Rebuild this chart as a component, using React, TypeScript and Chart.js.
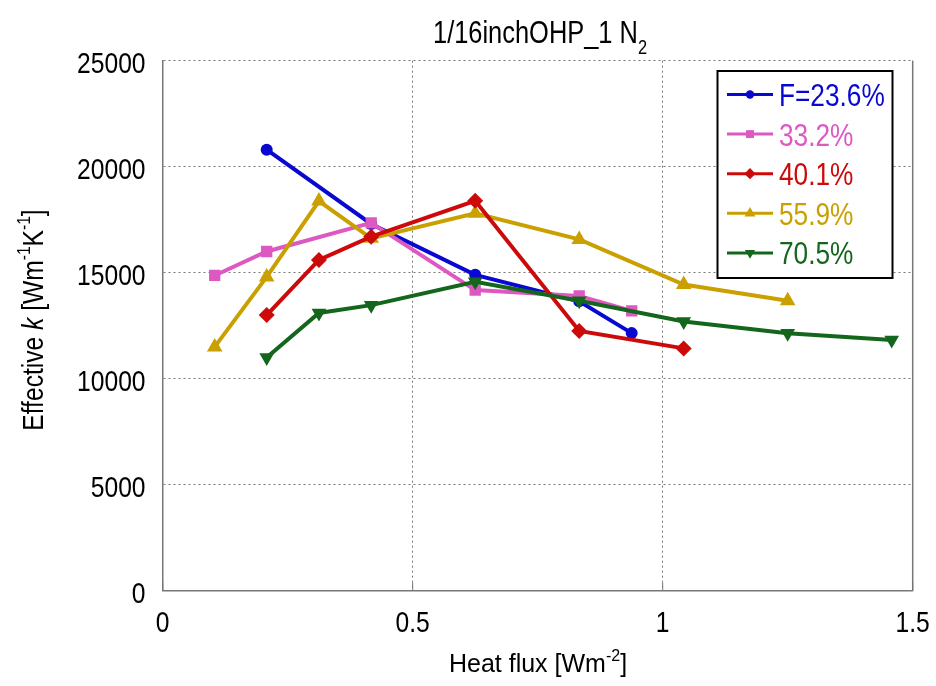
import React, { useEffect, useRef } from "react";
import { Chart, registerables } from "chart.js";

Chart.register(...registerables);

// ---------- data ----------
const seriesLabels = ["F=23.6%", "33.2%", "40.1%", "55.9%", "70.5%"];

const blueX = [0.208, 0.417, 0.625, 0.833, 0.938];
const blueY = [20800, 17300, 14900, 13650, 12150];

const pinkX = [0.104, 0.208, 0.417, 0.625, 0.833, 0.938];
const pinkY = [14870, 16000, 17350, 14180, 13900, 13200];

const redX = [0.208, 0.3125, 0.417, 0.625, 0.833, 1.042];
const redY = [13000, 15600, 16700, 18390, 12250, 11430];

const goldX = [0.104, 0.208, 0.3125, 0.417, 0.625, 0.833, 1.042, 1.25];
const goldY = [11500, 14800, 18380, 16620, 17800, 16570, 14440, 13680];

const greenX = [0.208, 0.3125, 0.417, 0.625, 0.833, 1.042, 1.25, 1.458];
const greenY = [11000, 13100, 13470, 14570, 13680, 12700, 12140, 11820];

const xTicks = [0, 0.5, 1, 1.5];
const yTicks = [0, 5000, 10000, 15000, 20000, 25000];
const xTickLabels = ["0", "0.5", "1", "1.5"];
const yTickLabels = ["0", "5000", "10000", "15000", "20000", "25000"];

const titleMain = "1/16inchOHP_1 N";
const titleSub = "2";

// ---------- styles ----------
const FONT = '"Liberation Sans", Arial, sans-serif';
const NARROW_K = 0.82; // horizontal compression to mimic a narrow face

const colors = ["#0808d0", "#de58c2", "#cc0a0a", "#c9a000", "#14661c"];
const pointStyles = ["circle", "rect", "rectRot", "triangle", "triangle"];
const pointRotations = [0, 0, 0, 0, 180];
const pointRadii = [6, 8, 8, 9, 8.5];
const drawOrders = [4, 3, 1, 2, 0];

const zip = (xs: number[], ys: number[]) => xs.map((x, i) => ({ x, y: ys[i] }));

type Run = { t: string; font: string; dy: number };

function runsWidth(ctx: CanvasRenderingContext2D, runs: Run[]) {
  let w = 0;
  for (const r of runs) {
    ctx.font = r.font;
    w += ctx.measureText(r.t).width;
  }
  return w;
}

// draws runs horizontally compressed by k; align: 0 left, 0.5 center, 1 right
function drawRuns(
  ctx: CanvasRenderingContext2D,
  runs: Run[],
  x: number,
  y: number,
  align: number,
  k: number
) {
  ctx.save();
  ctx.translate(x, y);
  ctx.scale(k, 1);
  ctx.textAlign = "left";
  ctx.textBaseline = "alphabetic";
  let cx = -runsWidth(ctx, runs) * align;
  for (const r of runs) {
    ctx.font = r.font;
    ctx.fillText(r.t, cx, r.dy);
    cx += ctx.measureText(r.t).width;
  }
  ctx.restore();
}

function drawMarker(ctx: CanvasRenderingContext2D, style: string, rot: number, x: number, y: number, r: number) {
  ctx.beginPath();
  if (style === "circle") {
    ctx.arc(x, y, r, 0, Math.PI * 2);
  } else if (style === "rect") {
    const s = r * Math.SQRT1_2;
    ctx.rect(x - s, y - s, 2 * s, 2 * s);
  } else if (style === "rectRot") {
    ctx.moveTo(x, y - r);
    ctx.lineTo(x + r, y);
    ctx.lineTo(x, y + r);
    ctx.lineTo(x - r, y);
    ctx.closePath();
  } else {
    const sgn = rot === 180 ? -1 : 1;
    const w = r * Math.sin((Math.PI * 2) / 3);
    ctx.moveTo(x, y - sgn * r);
    ctx.lineTo(x + w, y + (sgn * r) / 2);
    ctx.lineTo(x - w, y + (sgn * r) / 2);
    ctx.closePath();
  }
  ctx.fill();
}

const decorPlugin = {
  id: "decor",
  afterDraw(chart: any) {
    const ctx: CanvasRenderingContext2D = chart.ctx;
    const ca = chart.chartArea;
    const xs = chart.scales.x;
    const ys = chart.scales.y;
    ctx.save();

    // right border (solid) and inner ticks at bottom
    ctx.strokeStyle = "#777";
    ctx.lineWidth = 1.5;
    ctx.beginPath();
    ctx.moveTo(ca.right, ca.top);
    ctx.lineTo(ca.right, ca.bottom);
    ctx.stroke();
    ctx.lineWidth = 1;
    for (const v of xTicks) {
      const px = xs.getPixelForValue(v);
      ctx.beginPath();
      ctx.moveTo(px, ca.bottom);
      ctx.lineTo(px, ca.bottom - 8);
      ctx.stroke();
    }

    ctx.fillStyle = "#000";
    // tick labels
    yTicks.forEach((v, i) => {
      const py = ys.getPixelForValue(v);
      drawRuns(ctx, [{ t: yTickLabels[i], font: `30px ${FONT}`, dy: 0 }], 145.5, py + 12.5, 1, NARROW_K);
    });
    xTicks.forEach((v, i) => {
      const px = xs.getPixelForValue(v);
      drawRuns(ctx, [{ t: xTickLabels[i], font: `30px ${FONT}`, dy: 0 }], px, 632, 0.5, NARROW_K);
    });

    // title
    drawRuns(
      ctx,
      [
        { t: titleMain, font: `31px ${FONT}`, dy: 0 },
        { t: titleSub, font: `20px ${FONT}`, dy: 11 },
      ],
      540,
      43,
      0.5,
      NARROW_K
    );

    // x title
    drawRuns(
      ctx,
      [
        { t: "Heat flux [Wm", font: `25px ${FONT}`, dy: 0 },
        { t: "-2", font: `16px ${FONT}`, dy: -11 },
        { t: "]", font: `25px ${FONT}`, dy: 0 },
      ],
      538,
      672,
      0.5,
      1
    );

    // y title (rotated)
    ctx.save();
    ctx.translate(43, 320);
    ctx.rotate(-Math.PI / 2);
    drawRuns(
      ctx,
      [
        { t: "Effective ", font: `30px ${FONT}`, dy: 0 },
        { t: "k", font: `italic 30px ${FONT}`, dy: 0 },
        { t: " [Wm", font: `30px ${FONT}`, dy: 0 },
        { t: "-1", font: `19px ${FONT}`, dy: -13 },
        { t: "K", font: `30px ${FONT}`, dy: 0 },
        { t: "-1", font: `19px ${FONT}`, dy: -13 },
        { t: "]", font: `30px ${FONT}`, dy: 0 },
      ],
      0,
      0,
      0.5,
      NARROW_K
    );
    ctx.restore();

    // legend
    const bx = 717.5, by = 71, bw = 175, bh = 207;
    ctx.fillStyle = "#fff";
    ctx.fillRect(bx, by, bw, bh);
    ctx.strokeStyle = "#000";
    ctx.lineWidth = 2;
    ctx.strokeRect(bx, by, bw, bh);
    chart.data.datasets.forEach((ds: any, i: number) => {
      const cy = 94.5 + i * 39.6;
      ctx.strokeStyle = colors[i];
      ctx.fillStyle = colors[i];
      ctx.lineWidth = 3;
      ctx.beginPath();
      ctx.moveTo(727, cy);
      ctx.lineTo(773, cy);
      ctx.stroke();
      drawMarker(ctx, pointStyles[i], pointRotations[i], 750, cy, pointRadii[i] * 0.7);
      drawRuns(ctx, [{ t: ds.label, font: `32px ${FONT}`, dy: 0 }], 779, cy + 11.5, 0, NARROW_K);
    });

    ctx.restore();
  },
};

export default function App() {
  const ref = useRef<HTMLCanvasElement>(null);

  useEffect(() => {
    document.body.style.margin = "0";
    const canvas = ref.current!;
    const allX = [blueX, pinkX, redX, goldX, greenX];
    const allY = [blueY, pinkY, redY, goldY, greenY];
    const chart = new Chart(canvas, {
      type: "line",
      data: {
        datasets: seriesLabels.map((label, i) => ({
          label,
          data: zip(allX[i], allY[i]),
          borderColor: colors[i],
          backgroundColor: colors[i],
          borderWidth: 4,
          pointStyle: pointStyles[i] as any,
          pointRotation: pointRotations[i],
          pointRadius: pointRadii[i],
          pointBorderWidth: 0,
          pointBackgroundColor: colors[i],
          tension: 0,
          fill: false,
          order: drawOrders[i],
        })),
      },
      options: {
        animation: false,
        responsive: false,
        maintainAspectRatio: false,
        layout: { padding: { top: 60.7, right: 23.3, left: 0, bottom: 0 } },
        plugins: {
          legend: { display: false },
          title: { display: false },
          tooltip: { enabled: false },
        },
        scales: {
          x: {
            type: "linear",
            min: 0,
            max: 1.5,
            afterBuildTicks: (s: any) => {
              s.ticks = xTicks.map((v) => ({ value: v }));
            },
            afterFit: (s: any) => {
              s.height = 686 - 590.7;
              s.paddingLeft = 0;
              s.paddingRight = 0;
            },
            ticks: { display: false },
            grid: { color: "#777", lineWidth: 1, drawTicks: false },
            border: { display: true, color: "#777", width: 1.5, dash: [2, 3] },
          },
          y: {
            type: "linear",
            min: 0,
            max: 25000,
            afterBuildTicks: (s: any) => {
              s.ticks = yTicks.map((v) => ({ value: v }));
            },
            afterFit: (s: any) => {
              s.width = 162.7;
              s.paddingTop = 0;
              s.paddingBottom = 0;
            },
            ticks: { display: false },
            grid: { color: "#777", lineWidth: 1, drawTicks: false },
            border: { display: true, color: "#777", width: 1.5, dash: [2, 3] },
          },
        },
      },
      plugins: [decorPlugin],
    });
    return () => chart.destroy();
  }, []);

  return (
    <div style={{ position: "absolute", left: 0, top: 0, width: 936, height: 686, background: "#fff" }}>
      <canvas ref={ref} width={936} height={686} style={{ width: 936, height: 686 }} />
    </div>
  );
}
